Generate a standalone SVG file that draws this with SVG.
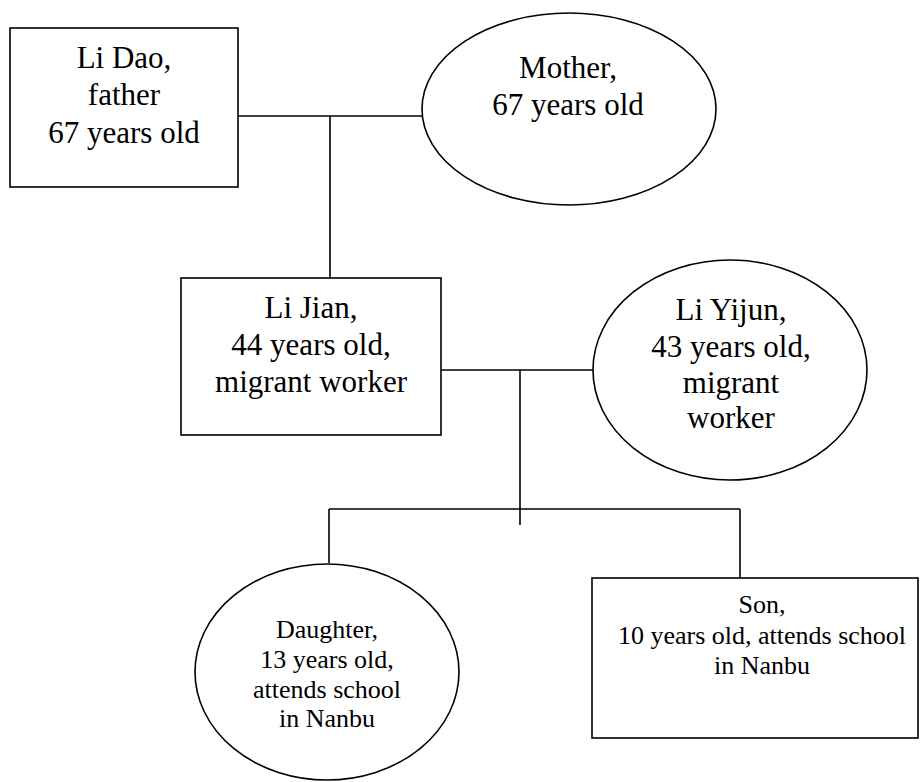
<svg xmlns="http://www.w3.org/2000/svg" width="920" height="782" viewBox="0 0 920 782">
<style>
.shape{fill:#fff;stroke:#000;stroke-width:1.6}
.conn{fill:none;stroke:#000;stroke-width:1.6}
.big{font-family:"Liberation Serif","Times New Roman",serif;font-size:31px;fill:#000;text-anchor:middle}
.small{font-family:"Liberation Serif","Times New Roman",serif;font-size:26px;fill:#000;text-anchor:middle}
</style>
<rect width="920" height="782" fill="#fff"/>
<g id="connectors" class="conn">
<line x1="238" y1="116" x2="423" y2="116"/>
<line x1="330" y1="116" x2="330" y2="278"/>
<line x1="441" y1="370" x2="594" y2="370"/>
<line x1="520" y1="370" x2="520" y2="525"/>
<line x1="329" y1="509" x2="740" y2="509"/>
<line x1="329" y1="509" x2="329" y2="563"/>
<line x1="740" y1="509" x2="740" y2="583"/>
</g>
<g id="li-dao">
<rect class="shape" x="10" y="28" width="228" height="159"/>
<text class="big" x="124" y="68">Li Dao,</text>
<text class="big" x="124" y="105">father</text>
<text class="big" x="124" y="143">67 years old</text>
</g>
<g id="mother">
<ellipse class="shape" cx="569" cy="109" rx="147" ry="96"/>
<text class="big" x="568" y="78">Mother,</text>
<text class="big" x="568" y="115">67 years old</text>
</g>
<g id="li-jian">
<rect class="shape" x="181" y="278" width="260" height="157"/>
<text class="big" x="311" y="318">Li Jian,</text>
<text class="big" x="311" y="355">44 years old,</text>
<text class="big" x="311" y="392">migrant worker</text>
</g>
<g id="li-yijun">
<ellipse class="shape" cx="730" cy="370" rx="137" ry="110"/>
<text class="big" x="731" y="320">Li Yijun,</text>
<text class="big" x="731" y="357">43 years old,</text>
<text class="big" x="731" y="393">migrant</text>
<text class="big" x="731" y="428">worker</text>
</g>
<g id="daughter">
<ellipse class="shape" cx="327" cy="672" rx="132" ry="108"/>
<text class="small" x="327" y="638">Daughter,</text>
<text class="small" x="327" y="668">13 years old,</text>
<text class="small" x="327" y="698">attends school</text>
<text class="small" x="327" y="727">in Nanbu</text>
</g>
<g id="son">
<rect class="shape" x="592" y="578" width="326" height="160"/>
<text class="small" x="762" y="613">Son,</text>
<text class="small" x="762" y="644">10 years old, attends school</text>
<text class="small" x="762" y="674">in Nanbu</text>
</g>
</svg>
